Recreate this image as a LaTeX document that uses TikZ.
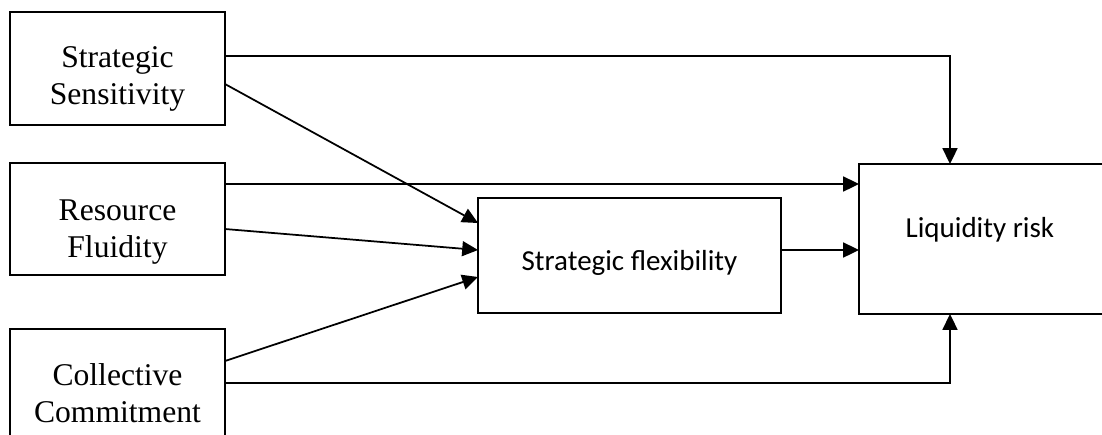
\documentclass[tikz,border=0pt]{standalone}
\usepackage{fontspec}
\setmainfont{Liberation Serif}
\newfontfamily\calibri{Carlito}
\usetikzlibrary{arrows.meta}

\begin{document}
\begin{tikzpicture}[x=0.02cm, y=-0.02cm,
    box/.style={draw, line width=1pt, inner sep=0pt, outer sep=0pt},
    factortext/.style={align=center, inner sep=0pt, font=\fontsize{18}{20.8}\selectfont},
    outcometext/.style={inner sep=0pt, font=\calibri\fontsize{16.5}{19}\selectfont},
    link/.style={line width=1pt, -{Triangle[length=9pt,width=8.5pt]}}]
    \clip (0,0) rectangle (1102,434);

    % Antecedents
    \node[box, minimum width=4.3cm, minimum height=2.26cm] (ss) at (117.5,68.5) {};
    \node[factortext] (ss-text) at ([yshift=-5.8pt]ss.center) {Strategic\\Sensitivity};
    \node[box, minimum width=4.3cm, minimum height=2.24cm] (rf) at (117.5,219) {};
    \node[factortext] (rf-text) at ([yshift=-7.4pt]rf.center) {Resource\\Fluidity};
    \node[box, minimum width=4.3cm, minimum height=2.28cm] (cc) at (117.5,386) {};
    \node[factortext] (cc-text) at ([yshift=-4pt]cc.center) {Collective\\Commitment};

    % Mediator and outcome
    \node[box, minimum width=6.06cm, minimum height=2.3cm] (sf) at (629.5,255.5) {};
    \node[outcometext] (sf-text) at ([yshift=-4.2pt]sf.center) {Strategic flexibility};
    \node[box, minimum width=4.94cm, minimum height=3cm] (lr) at (982.5,239) {};
    \node[outcometext] (lr-text) at ([xshift=-1.5pt,yshift=5pt]lr.center) {Liquidity risk};

    % Paths to strategic flexibility
    \draw[link] (ss.east |- 0,84) -- (sf.west |- 0,223);
    \draw[link] (rf.east |- 0,229) -- (sf.west |- 0,250);
    \draw[link] (cc.east |- 0,361) -- (sf.west |- 0,277);

    % Paths to liquidity risk
    \draw[link] (ss.east |- 0,56) -| (lr.north -| 950,0);
    \draw[link] (rf.east |- 0,184) -- (lr.west |- 0,184);
    \draw[link] (sf.east |- 0,250) -- (lr.west |- 0,250);
    \draw[link] (cc.east |- 0,383) -| (lr.south -| 950,0);
\end{tikzpicture}
\end{document}
